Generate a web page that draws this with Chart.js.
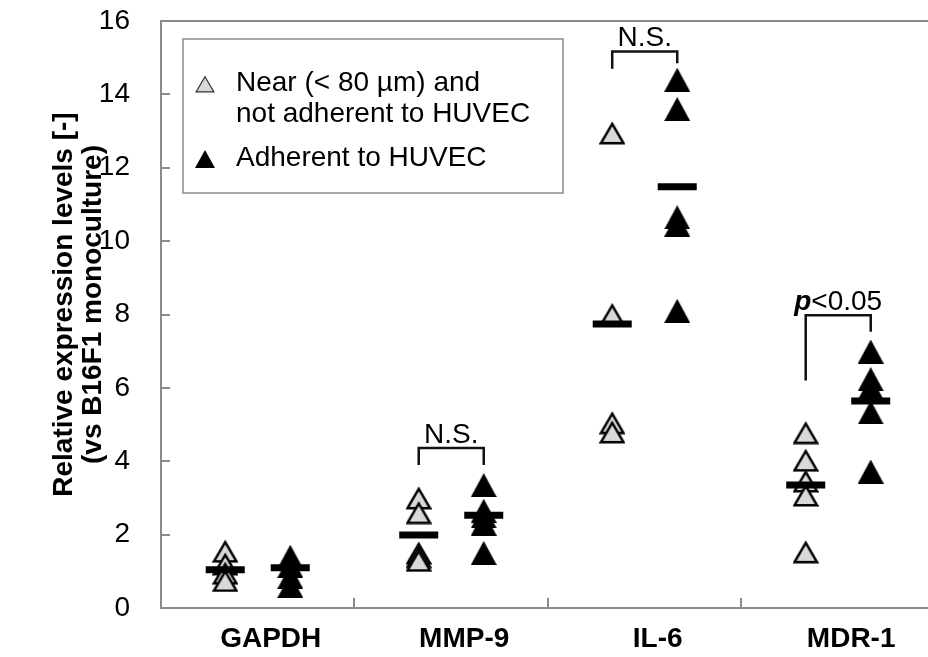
<!DOCTYPE html>
<html><head><meta charset="utf-8">
<script src="https://cdn.jsdelivr.net/npm/chart.js@4/dist/chart.umd.min.js"></script>
<style>html,body{margin:0;padding:0;background:#fff;overflow:hidden}#wrap{width:928px;height:657px;position:relative}</style>
</head><body><div id="wrap"><canvas id="c"></canvas></div>
<script>
// ---- data ----
const categories = ['GAPDH', 'MMP-9', 'IL-6', 'MDR-1'];
const legendNear = ['Near (< 80 µm) and', 'not adherent to HUVEC'];
const legendAdherent = ['Adherent to HUVEC'];
const nearValues = [
  [1.55, 1.2, 0.95, 0.75],
  [3.0, 2.6, 1.5, 1.4, 1.3],
  [12.95, 8.0, 5.05, 4.8],
  [4.78, 4.03, 3.46, 3.08, 1.53]
];
const adherentValues = [
  [1.4, 1.15, 0.85, 0.6],
  [3.35, 2.65, 2.5, 2.3, 1.5],
  [14.4, 13.6, 10.65, 10.45, 8.1],
  [6.99, 6.24, 6.0, 5.33, 3.72]
];
const nearMeans = [1.04, 1.99, 7.74, 3.35];
const adherentMeans = [1.1, 2.53, 11.48, 5.64];
const yTickValues = [0, 2, 4, 6, 8, 10, 12, 14, 16];
const yTitle = ['Relative expression levels [-]', '(vs B16F1 monoculture)'];
const bracketCats = [1, 2, 3];
const bracketTop = [4.36, 15.17, 7.98];
const bracketLeftEnd = [3.9, 14.7, 6.2];
const bracketRightEnd = [3.9, 14.85, 7.53];
const bracketLabels = ['N.S.', 'N.S.', 'p<0.05'];

// ---- layout constants ----
const GROUP_OFFSET = 0.168;
const LABEL_SHIFT = 0.067;
const X_MAX = 3.964;
const FONT = "'Liberation Sans', Arial, sans-serif";
const AXIS_GRAY = '#8a8a8a';

function makeTriangle(w, h, fill, stroke, lw) {
  const c = document.createElement('canvas');
  c.width = w; c.height = h;
  const g = c.getContext('2d');
  const inset = stroke ? lw / 2 + 0.5 : 0;
  g.beginPath();
  g.moveTo(w / 2, stroke ? lw + 0.5 : 0);
  g.lineTo(w - inset, h - inset);
  g.lineTo(inset, h - inset);
  g.closePath();
  g.fillStyle = fill; g.fill();
  if (stroke) { g.lineWidth = lw; g.strokeStyle = stroke; g.lineJoin = 'miter'; g.stroke(); }
  return c;
}
const triLight = makeTriangle(26, 24, '#d9d9d9', '#000', 2.4);
const triDark = makeTriangle(26, 24, '#000', null, 0);
const legLight = makeTriangle(20, 18, '#d9d9d9', '#333', 1.2);
const legDark = makeTriangle(20, 18, '#000', null, 0);

function pts(arr, side) {
  const out = [];
  arr.forEach((vals, i) => vals.forEach(v => out.push({x: i + 0.5 + side * GROUP_OFFSET, y: v})));
  return out;
}
function meanPts(arr, side) {
  return arr.map((v, i) => ({x: i + 0.5 + side * GROUP_OFFSET, y: v}));
}

const decorPlugin = {
  id: 'decor',
  afterDraw(chart) {
    const {ctx, chartArea: a, scales: {x, y}} = chart;
    ctx.save();
    // top frame line
    ctx.strokeStyle = AXIS_GRAY; ctx.lineWidth = 2;
    ctx.beginPath(); ctx.moveTo(a.left - 1, a.top); ctx.lineTo(a.right, a.top); ctx.stroke();
    // inward y ticks
    yTickValues.forEach(v => {
      const py = Math.round(y.getPixelForValue(v));
      ctx.beginPath(); ctx.moveTo(a.left, py); ctx.lineTo(a.left + 9, py); ctx.stroke();
    });
    // inward x ticks at category boundaries
    for (let i = 1; i < categories.length; i++) {
      const px = Math.round(x.getPixelForValue(i));
      ctx.beginPath(); ctx.moveTo(px, a.bottom); ctx.lineTo(px, a.bottom - 10); ctx.stroke();
    }
    // y axis title
    ctx.save();
    ctx.fillStyle = '#000'; ctx.font = `bold 28px ${FONT}`;
    ctx.textAlign = 'center'; ctx.textBaseline = 'middle';
    const tcy = (a.top + a.bottom) / 2 - 10;
    ctx.translate(a.left - 97, tcy); ctx.rotate(-Math.PI / 2);
    ctx.fillText(yTitle[0], 0, 0);
    ctx.fillText(yTitle[1], 0, 29);
    ctx.restore();
    // brackets
    ctx.strokeStyle = '#111'; ctx.lineWidth = 2.5; ctx.lineJoin = 'miter';
    bracketCats.forEach((c, k) => {
      const xl = x.getPixelForValue(c + 0.5 - GROUP_OFFSET);
      const xr = x.getPixelForValue(c + 0.5 + GROUP_OFFSET);
      const yt = y.getPixelForValue(bracketTop[k]);
      ctx.beginPath();
      ctx.moveTo(xl, y.getPixelForValue(bracketLeftEnd[k]));
      ctx.lineTo(xl, yt); ctx.lineTo(xr, yt);
      ctx.lineTo(xr, y.getPixelForValue(bracketRightEnd[k]));
      ctx.stroke();
      const cx = x.getPixelForValue(c + 0.5);
      ctx.fillStyle = '#000'; ctx.textBaseline = 'alphabetic';
      const lab = bracketLabels[k];
      if (lab.startsWith('p')) {
        const f1 = `italic bold 28px ${FONT}`, f2 = `28px ${FONT}`;
        ctx.font = f1; const w1 = ctx.measureText('p').width;
        ctx.font = f2; const w2 = ctx.measureText(lab.slice(1)).width;
        const x0 = cx - (w1 + w2) / 2;
        ctx.textAlign = 'left';
        ctx.font = f1; ctx.fillText('p', x0, yt - 5);
        ctx.font = f2; ctx.fillText(lab.slice(1), x0 + w1, yt - 5);
      } else {
        ctx.font = `28px ${FONT}`; ctx.textAlign = 'center';
        ctx.fillText(lab, cx, yt - 5);
      }
    });
    // legend
    const bx = a.left + 22, by = a.top + 18, bw = 380, bh = 154;
    ctx.fillStyle = '#fff'; ctx.fillRect(bx, by, bw, bh);
    ctx.strokeStyle = AXIS_GRAY; ctx.lineWidth = 1.5;
    ctx.strokeRect(bx, by, bw, bh);
    ctx.fillStyle = '#000'; ctx.font = `28px ${FONT}`; ctx.textAlign = 'left'; ctx.textBaseline = 'middle';
    ctx.drawImage(legLight, bx + 12, by + 36);
    ctx.fillText(legendNear[0], bx + 53, by + 44);
    ctx.fillText(legendNear[1], bx + 53, by + 75);
    ctx.drawImage(legDark, bx + 12, by + 111);
    ctx.fillText(legendAdherent[0], bx + 53, by + 119);
    ctx.restore();
  }
};

Chart.defaults.font.family = FONT;
new Chart(document.getElementById('c'), {
  type: 'scatter',
  data: {
    datasets: [
      {label: 'near mean', data: meanPts(nearMeans, -1), pointStyle: 'line', pointRadius: 19.5, pointBorderWidth: 7, borderColor: '#000', backgroundColor: '#000'},
      {label: 'adherent mean', data: meanPts(adherentMeans, 1), pointStyle: 'line', pointRadius: 19.5, pointBorderWidth: 7, borderColor: '#000', backgroundColor: '#000'},
      {label: legendNear.join(' '), data: pts(nearValues, -1), pointStyle: triLight, pointRadius: 13},
      {label: legendAdherent[0], data: pts(adherentValues, 1), pointStyle: triDark, pointRadius: 13}
    ]
  },
  options: {
    responsive: true, maintainAspectRatio: false, animation: false, events: [],
    layout: {autoPadding: false, padding: {top: 21, right: 0, bottom: 0, left: 0}},
    plugins: {legend: {display: false}, tooltip: {enabled: false}},
    scales: {
      x: {
        type: 'linear', min: 0, max: X_MAX,
        afterBuildTicks(s) { s.ticks = categories.map((c, i) => ({value: i + 0.5 + LABEL_SHIFT})); },
        ticks: {callback: (v, i) => categories[i], color: '#000', padding: 14, autoSkip: false, maxRotation: 0,
          font: {size: 28, weight: 'bold'}},
        grid: {display: false, drawTicks: false},
        border: {display: true, color: AXIS_GRAY, width: 2},
        afterFit(s) { s.height = 49; s.paddingLeft = 0; s.paddingRight = 0; s.paddingTop = 0; s.paddingBottom = 0; }
      },
      y: {
        min: 0, max: 16,
        afterBuildTicks(s) { s.ticks = yTickValues.map(v => ({value: v})); },
        ticks: {color: '#000', padding: 31, font: {size: 28}},
        grid: {display: false, drawTicks: false},
        border: {display: true, color: AXIS_GRAY, width: 2},
        title: {display: false},
        afterFit(s) { s.width = 161; s.paddingLeft = 0; s.paddingRight = 0; s.paddingTop = 0; s.paddingBottom = 0; }
      }
    }
  },
  plugins: [decorPlugin]
});
</script>
</body></html>
